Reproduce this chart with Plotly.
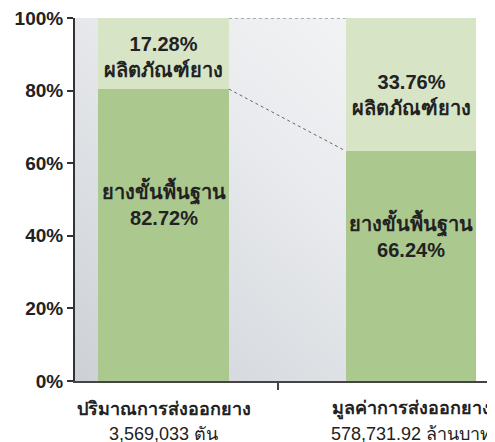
import base64
import plotly.graph_objects as go

# ---- data ----
categories = ["ปริมาณการส่งออกยาง", "มูลค่าการส่งออกยาง"]
category_totals = ["3,569,033 ตัน", "578,731.92 ล้านบาท"]
# percentages as printed in the labels
basic_label_pct = [82.72, 66.24]      # ยางขั้นพื้นฐาน
product_label_pct = [17.28, 33.76]    # ผลิตภัณฑ์ยาง
# segment heights as drawn in the picture
basic_bar = [80.4, 63.4]
product_bar = [19.6, 36.6]
basic_name = "ยางขั้นพื้นฐาน"
product_name = "ผลิตภัณฑ์ยาง"
y_ticks = [0, 20, 40, 60, 80, 100]
y_tick_labels = ["0%", "20%", "40%", "60%", "80%", "100%"]

# ---- styling / layout constants ----
W, H = 495, 442
BAR_W = 0.529
X_RANGE = [-0.3576, 1.3717]
SEP_TICK = 0.464
FONT = "Liberation Sans, Noto Sans, sans-serif"
DARK = "#222222"
C_BASIC = "#abc88e"
C_PROD = "#d7e4c6"
# label centres (in % units) for inside-bar labels
prod_label_y = [89.2, 78.8]
basic_label_y = [49.0, 40.3]

xs = list(range(len(categories)))

fig = go.Figure()
fig.add_trace(go.Bar(x=xs, y=basic_bar, width=BAR_W, marker=dict(color=C_BASIC, line=dict(width=0)),
                     name=basic_name, hoverinfo="skip"))
fig.add_trace(go.Bar(x=xs, y=product_bar, width=BAR_W, marker=dict(color=C_PROD, line=dict(width=0)),
                     name=product_name, hoverinfo="skip"))

# gradient background (SVG data URI)
svg = ("<svg xmlns='http://www.w3.org/2000/svg' width='400' height='360' preserveAspectRatio='none'>"
       "<defs><linearGradient id='g' x1='0' y1='1' x2='1' y2='0'>"
       "<stop offset='0' stop-color='#cdd1d6'/><stop offset='0.55' stop-color='#e8eaed'/>"
       "<stop offset='1' stop-color='#f7f8f9'/></linearGradient></defs>"
       "<rect width='400' height='360' fill='url(#g)'/></svg>")
src = "data:image/svg+xml;base64," + base64.b64encode(svg.encode()).decode()
bg_right = xs[-1] + BAR_W / 2
fig.add_layout_image(dict(source=src, xref="x", yref="y", x=X_RANGE[0], y=100,
                          sizex=bg_right - X_RANGE[0], sizey=100, sizing="stretch",
                          layer="below", opacity=1))

# soft shadow above the panel
fig.add_shape(type="rect", xref="x", yref="y", x0=X_RANGE[0], x1=bg_right, y0=100, y1=101.2,
              fillcolor="#e6e8ea", line=dict(width=0), layer="below")

# dotted connector lines
x_a = xs[0] + BAR_W / 2
x_b = xs[1] - BAR_W / 2
tot0 = basic_bar[0] + product_bar[0]
tot1 = basic_bar[1] + product_bar[1]
for (ya, yb) in [(tot0, tot1), (basic_bar[0], basic_bar[1])]:
    fig.add_shape(type="line", xref="x", yref="y", x0=x_a, x1=x_b, y0=ya, y1=yb,
                  line=dict(color="#666666", width=1, dash="dot"))

# inside labels
for i in xs:
    fig.add_annotation(x=i, y=prod_label_y[i], xref="x", yref="y",
                       text=f"<b>{product_label_pct[i]:.2f}%</b><br><b>{product_name}</b>",
                       showarrow=False, font=dict(family=FONT, size=20, color=DARK))
    fig.add_annotation(x=i, y=basic_label_y[i], xref="x", yref="y",
                       text=f"<b>{basic_name}</b><br><b>{basic_label_pct[i]:.2f}%</b>",
                       showarrow=False, font=dict(family=FONT, size=20, color=DARK))
    fig.add_annotation(x=i, y=0, xref="x", yref="paper", yanchor="middle", yshift=-28,
                       text=f"<b>{categories[i]}</b>", showarrow=False,
                       font=dict(family=FONT, size=18, color=DARK))
    fig.add_annotation(x=i, y=0, xref="x", yref="paper", yanchor="middle", yshift=-53,
                       text=category_totals[i], showarrow=False,
                       font=dict(family=FONT, size=18, color=DARK))

fig.update_layout(
    width=W, height=H, barmode="stack", showlegend=False,
    margin=dict(l=67, r=0, t=10, b=69),
    paper_bgcolor="white", plot_bgcolor="white",
    xaxis=dict(range=X_RANGE, tickvals=[SEP_TICK], ticktext=[""], ticks="outside",
               ticklen=7, tickwidth=2, tickcolor="#444444", showline=True, linecolor="#444444",
               linewidth=2, showgrid=False, zeroline=False, fixedrange=True),
    yaxis=dict(range=[0, 100], tickvals=y_ticks, ticktext=[f"<b>{t}</b>" for t in y_tick_labels],
               ticks="outside", ticklen=6, tickwidth=2, tickcolor="#333333", showline=True,
               linecolor="#333333", linewidth=2, showgrid=False, zeroline=False,
               ticklabeloverflow="allow",
               tickfont=dict(family=FONT, size=19, color=DARK), fixedrange=True),
)

fig.write_html("out.html")
